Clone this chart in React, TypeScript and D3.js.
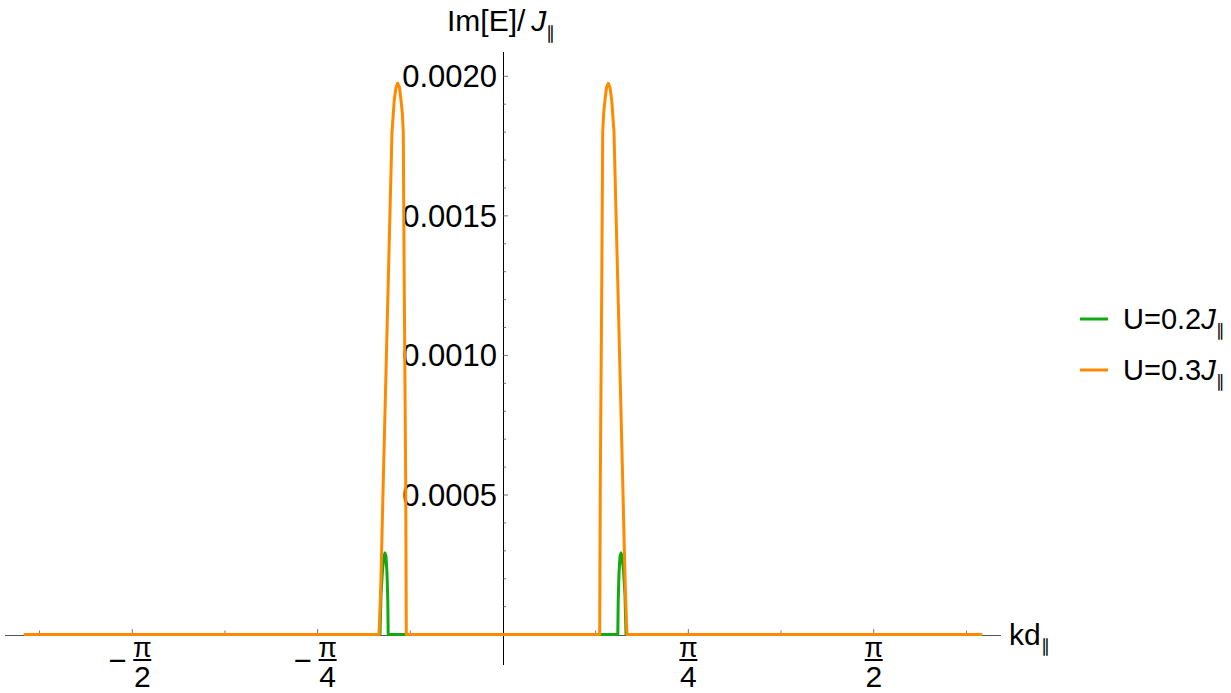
import React from 'react';
import * as d3 from 'd3';

const W = 1231;
const H = 693;

// series: k·d (x) and Im[E]/J (y)
const kU02 = [
  -2.03, -0.5212, -0.5169, -0.5106, -0.5042, -0.5, -0.4958, -0.4915, -0.4881, -0.4864,
  0.4864, 0.4881, 0.4915, 0.4958, 0.5, 0.5042, 0.5106, 0.5169, 0.5212, 2.03,
];
const imU02 = [
  0, 0, 0.00014, 0.00023, 0.00028, 0.000292, 0.00028, 0.00022, 0.00012, 0,
  0, 0.00012, 0.00022, 0.00028, 0.000292, 0.00028, 0.00023, 0.00014, 0, 0,
];

const kU03 = [
  -2.03, -0.5254, -0.5182, -0.5072, -0.486, -0.4703, -0.4606, -0.4534, -0.4462, -0.4386,
  -0.4322, -0.4267, -0.4225, -0.4186, -0.4153, -0.4123, -0.4106, -0.4097,
  0.4097, 0.4106, 0.4123, 0.4153, 0.4186, 0.4225, 0.4267, 0.4322, 0.4386, 0.4462,
  0.4534, 0.4606, 0.4703, 0.486, 0.5072, 0.5182, 0.5254, 2.03,
];
const imU03 = [
  0, 0, 0.00016, 0.00055, 0.00127, 0.0018, 0.001915, 0.00196, 0.001975, 0.00196,
  0.001915, 0.00187, 0.0018, 0.00127, 0.0009, 0.00055, 0.0002, 0,
  0, 0.0002, 0.00055, 0.0009, 0.00127, 0.0018, 0.00187, 0.001915, 0.00196, 0.001975,
  0.00196, 0.001915, 0.0018, 0.00127, 0.00055, 0.00016, 0, 0,
];

const seriesNames = ['U=0.2', 'U=0.3'];
const seriesColors = ['#12a812', '#ff8a00'];

const xMajorTicks = [-Math.PI / 2, -Math.PI / 4, Math.PI / 4, Math.PI / 2];
const xMajorDenoms = ['2', '4', '4', '2'];
const xMinorTicks = [-5 * Math.PI / 8, -3 * Math.PI / 8, -Math.PI / 8, Math.PI / 8, 3 * Math.PI / 8, 5 * Math.PI / 8];

const yMajorTicks = [0.0005, 0.001, 0.0015, 0.002];
const yMajorLabels = ['0.0005', '0.0010', '0.0015', '0.0020'];

const FONT = '"Liberation Sans", Arial, Helvetica, sans-serif';

export default function App() {
  const x = d3.scaleLinear().domain([-2.11, 2.11]).range([5, 1001]);
  const y = d3.scaleLinear().domain([-0.000109, 0.002087]).range([665, 52]);

  const line = d3
    .line<[number, number]>()
    .x((d) => x(d[0]))
    .y((d) => y(d[1]));

  const series = [
    kU02.map((k, i) => [k, imU02[i]] as [number, number]),
    kU03.map((k, i) => [k, imU03[i]] as [number, number]),
  ];

  const yMinor = d3.range(1, 21).map((i) => i * 0.0001).filter((v) => Math.round(v * 10000) % 5 !== 0);

  // snap axis lines to pixel centres so they render crisp
  const x0 = Math.round(x(0)) + 0.5;
  const y0 = Math.round(y(0)) + 0.5;

  return (
    <svg width={W} height={H} style={{ position: 'absolute', left: 0, top: 0, background: '#fff' }} fontFamily={FONT}>
      {/* x axis */}
      <line x1={x.range()[0]} x2={x.range()[1]} y1={y0} y2={y0} stroke="#555" strokeWidth={1} />
      {xMinorTicks.map((t, i) => (
        <line key={'xm' + i} x1={x(t)} x2={x(t)} y1={y0} y2={y0 - 5} stroke="#777" strokeWidth={1} />
      ))}
      {xMajorTicks.map((t, i) => {
        const neg = t < 0;
        const cx = neg ? x(t) + 10 : x(t);
        return (
          <g key={'xM' + i}>
            <line x1={x(t)} x2={x(t)} y1={y0} y2={y0 - 6.5} stroke="#777" strokeWidth={1} />
            {neg && (
              <text x={cx - 25} y={671} fontSize={31} textAnchor="middle" fill="#000">−</text>
            )}
            <text x={cx} y={656.5} fontSize={27} textAnchor="middle" fill="#000">π</text>
            <line x1={cx - 9} x2={cx + 9} y1={660} y2={660} stroke="#000" strokeWidth={2} />
            <text x={cx} y={687} fontSize={30} textAnchor="middle" fill="#000">{xMajorDenoms[i]}</text>
          </g>
        );
      })}
      <text x={1009} y={645} fontSize={30} fill="#000">
        kd<tspan fontSize={18} dy={7}>∥</tspan>
      </text>

      {/* y axis */}
      <line x1={x0} x2={x0} y1={y.range()[0]} y2={y.range()[1]} stroke="#000" strokeWidth={1} />
      {yMinor.map((t, i) => (
        <line key={'ym' + i} x1={x0} x2={x0 + 2.5} y1={y(t)} y2={y(t)} stroke="#777" strokeWidth={1} />
      ))}
      {yMajorTicks.map((t, i) => (
        <g key={'yM' + i}>
          <line x1={x0} x2={x0 + 4.5} y1={y(t)} y2={y(t)} stroke="#777" strokeWidth={1} />
          <text x={497} y={y(t) + 11} fontSize={31} textAnchor="end" fill="#000">{yMajorLabels[i]}</text>
        </g>
      ))}
      <text x={447} y={30.5} fontSize={30} fill="#000">
        Im[E]/<tspan dx={6} fontStyle="italic">J</tspan>
        <tspan fontSize={18} dy={8}>∥</tspan>
      </text>

      {/* data */}
      {series.map((s, i) => (
        <path key={'s' + i} d={line(s) || ''} fill="none" stroke={seriesColors[i]} strokeWidth={3} strokeLinejoin="round" />
      ))}

      {/* legend */}
      {seriesNames.map((name, i) => {
        const ly = 319 + i * 51;
        return (
          <g key={'lg' + i}>
            <line x1={1080} x2={1108} y1={ly} y2={ly} stroke={seriesColors[i]} strokeWidth={3} />
            <text x={1123} y={ly + 10} fontSize={29} fill="#000">
              {name}
              <tspan fontStyle="italic">J</tspan>
              <tspan fontSize={17} dy={7}>∥</tspan>
            </text>
          </g>
        );
      })}
    </svg>
  );
}
